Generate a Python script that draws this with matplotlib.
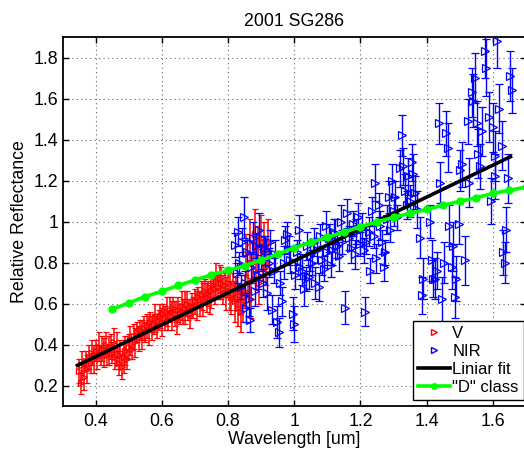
import numpy as np
import matplotlib.pyplot as plt
from matplotlib.lines import Line2D

plt.rcParams['font.family'] = ['Liberation Sans', 'DejaVu Sans']
plt.rcParams['font.size'] = 12.8

# V band spectrum (red)
v_wl = [0.350, 0.355, 0.360, 0.365, 0.370, 0.375, 0.380, 0.385, 0.390, 0.395,
        0.400, 0.405, 0.410, 0.415, 0.420, 0.425, 0.430, 0.435, 0.440, 0.445,
        0.450, 0.455, 0.460, 0.465, 0.470, 0.475, 0.480, 0.485, 0.490, 0.495,
        0.500, 0.505, 0.510, 0.515, 0.520, 0.525, 0.530, 0.535, 0.540, 0.545,
        0.550, 0.555, 0.560, 0.565, 0.570, 0.575, 0.580, 0.585, 0.590, 0.595,
        0.600, 0.605, 0.610, 0.615, 0.620, 0.625, 0.630, 0.635, 0.640, 0.645,
        0.650, 0.655, 0.660, 0.665, 0.670, 0.675, 0.680, 0.685, 0.690, 0.695,
        0.700, 0.705, 0.710, 0.715, 0.720, 0.725, 0.730, 0.735, 0.740, 0.745,
        0.750, 0.755, 0.760, 0.765, 0.770, 0.775, 0.780, 0.785, 0.790, 0.795,
        0.800, 0.805, 0.810, 0.815, 0.820, 0.825, 0.830, 0.835, 0.840, 0.845,
        0.850, 0.855, 0.860, 0.865, 0.870, 0.875, 0.880, 0.885, 0.890, 0.895,
        0.900, 0.905, 0.910, 0.915, 0.920]
v_ref = [0.27, 0.21, 0.30, 0.24, 0.32, 0.28, 0.34, 0.31, 0.36, 0.33,
         0.37, 0.34, 0.39, 0.35, 0.38, 0.36, 0.40, 0.35, 0.37, 0.39,
         0.36, 0.41, 0.34, 0.38, 0.31, 0.35, 0.29, 0.34, 0.37, 0.33,
         0.39, 0.42, 0.38, 0.44, 0.41, 0.46, 0.43, 0.47, 0.45, 0.48,
         0.46, 0.49, 0.47, 0.51, 0.48, 0.50, 0.53, 0.49, 0.52, 0.54,
         0.51, 0.55, 0.53, 0.56, 0.52, 0.57, 0.54, 0.58, 0.55, 0.53,
         0.57, 0.55, 0.59, 0.56, 0.58, 0.60, 0.57, 0.55, 0.59, 0.58,
         0.61, 0.59, 0.63, 0.60, 0.64, 0.62, 0.66, 0.63, 0.65, 0.62,
         0.66, 0.69, 0.67, 0.71, 0.68, 0.72, 0.70, 0.67, 0.69, 0.65,
         0.70, 0.66, 0.63, 0.68, 0.61, 0.65, 0.58, 0.62, 0.56, 0.60,
         0.66, 0.84, 0.72, 0.90, 0.62, 0.80, 0.94, 0.76, 0.87, 0.70,
         0.92, 0.81, 0.88, 0.78, 0.90]
v_err = [0.06, 0.05, 0.07, 0.06, 0.05, 0.07, 0.06, 0.05, 0.06, 0.07,
         0.05, 0.06, 0.07, 0.05, 0.06, 0.07, 0.06, 0.05, 0.07, 0.06,
         0.05, 0.07, 0.06, 0.08, 0.06, 0.07, 0.06, 0.08, 0.07, 0.05,
         0.06, 0.07, 0.05, 0.06, 0.07, 0.05, 0.06, 0.05, 0.07, 0.06,
         0.05, 0.06, 0.07, 0.05, 0.06, 0.05, 0.07, 0.06, 0.05, 0.06,
         0.07, 0.05, 0.06, 0.07, 0.05, 0.06, 0.07, 0.05, 0.06, 0.08,
         0.06, 0.05, 0.07, 0.06, 0.08, 0.06, 0.05, 0.07, 0.06, 0.05,
         0.06, 0.07, 0.05, 0.06, 0.07, 0.08, 0.06, 0.07, 0.06, 0.07,
         0.08, 0.06, 0.07, 0.09, 0.06, 0.07, 0.08, 0.07, 0.06, 0.08,
         0.07, 0.09, 0.08, 0.07, 0.10, 0.08, 0.09, 0.07, 0.10, 0.09,
         0.08, 0.10, 0.09, 0.11, 0.09, 0.10, 0.12, 0.09, 0.11, 0.10,
         0.11, 0.10, 0.12, 0.09, 0.11]

# NIR spectrum (blue)
n_wl = [0.822, 0.826, 0.830, 0.834, 0.838, 0.842, 0.847, 0.850, 0.855, 0.858,
        0.862, 0.866, 0.870, 0.875, 0.880, 0.885, 0.890, 0.895, 0.900, 0.905,
        0.910, 0.913, 0.918, 0.923, 0.928, 0.933, 0.938, 0.942, 0.948, 0.953,
        0.958, 0.963, 0.968, 0.973, 0.978, 0.983, 0.988, 0.995, 0.998, 1.003,
        1.008, 1.013, 1.018, 1.023, 1.029, 1.034, 1.039, 1.044, 1.049, 1.054,
        1.059, 1.064, 1.069, 1.074, 1.079, 1.084, 1.090, 1.095, 1.100, 1.105,
        1.110, 1.114, 1.120, 1.124, 1.129, 1.134, 1.140, 1.145, 1.152, 1.159,
        1.164, 1.170, 1.176, 1.182, 1.188, 1.194, 1.199, 1.205, 1.210, 1.215,
        1.218, 1.225, 1.228, 1.235, 1.240, 1.245, 1.248, 1.255, 1.260, 1.265,
        1.270, 1.275, 1.280, 1.285, 1.290, 1.295, 1.300, 1.305, 1.310, 1.320,
        1.325, 1.329, 1.335, 1.340, 1.345, 1.350, 1.355, 1.360, 1.365, 1.370,
        1.380, 1.386, 1.390, 1.410, 1.415, 1.420, 1.424, 1.430, 1.436, 1.441,
        1.446, 1.451, 1.459, 1.464, 1.466, 1.476, 1.481, 1.487, 1.490, 1.498,
        1.501, 1.508, 1.516, 1.526, 1.527, 1.536, 1.541, 1.546, 1.551, 1.556,
        1.560, 1.566, 1.576, 1.580, 1.587, 1.595, 1.600, 1.605, 1.607, 1.612,
        1.617, 1.627, 1.632, 1.637, 1.640, 1.647, 1.652, 1.657]
n_ref = [0.885, 0.75, 0.95, 0.80, 0.68, 0.90, 1.02, 0.70, 0.58, 0.85,
         0.62, 0.52, 0.78, 0.92, 0.66, 0.88, 0.74, 0.96, 0.82, 0.70,
         0.87, 0.86, 0.65, 0.80, 0.90, 0.57, 0.76, 0.84, 0.51, 0.46,
         0.70, 0.61, 0.80, 0.91, 0.94, 0.86, 0.81, 0.55, 0.50, 0.74,
         0.85, 0.96, 0.78, 0.76, 0.67, 0.72, 0.88, 0.73, 0.83, 0.80,
         0.90, 0.70, 0.86, 0.68, 0.93, 0.81, 0.77, 0.98, 0.85, 0.92,
         0.79, 0.86, 0.95, 0.94, 0.88, 0.83, 1.00, 0.90, 0.58, 1.04,
         0.92, 0.87, 0.99, 0.84, 0.95, 1.02, 0.89, 0.97, 0.86, 0.56,
         0.90, 0.95, 0.76, 1.05, 0.93, 1.19, 0.82, 1.08, 0.98, 0.90,
         0.78, 0.85, 1.01, 1.12, 0.96, 1.20, 1.05, 1.12, 1.02, 1.26,
         1.42, 1.27, 1.15, 1.08, 1.22, 1.10, 1.29, 1.23, 1.14, 1.06,
         0.92, 0.64, 0.72, 1.00, 0.81, 0.72, 0.72, 0.76, 1.48, 1.19,
         0.62, 0.80, 1.43, 1.36, 0.98, 0.78, 0.88, 0.63, 0.72, 0.99,
         1.25, 1.28, 0.81, 1.49, 1.19, 1.63, 1.59, 1.70, 1.48, 1.33,
         1.27, 1.44, 1.83, 1.75, 1.51, 1.10, 1.46, 1.32, 1.22, 1.88,
         1.55, 1.37, 0.85, 0.80, 0.96, 1.21, 1.71, 1.64]
n_err = [0.06, 0.05, 0.07, 0.05, 0.06, 0.07, 0.10, 0.06, 0.07, 0.06,
         0.08, 0.06, 0.07, 0.08, 0.07, 0.06, 0.07, 0.08, 0.06, 0.07,
         0.06, 0.07, 0.08, 0.07, 0.06, 0.07, 0.06, 0.07, 0.08, 0.07,
         0.06, 0.07, 0.08, 0.07, 0.06, 0.07, 0.06, 0.08, 0.09, 0.07,
         0.06, 0.07, 0.06, 0.07, 0.08, 0.06, 0.07, 0.06, 0.07, 0.06,
         0.07, 0.08, 0.06, 0.07, 0.06, 0.07, 0.06, 0.07, 0.06, 0.07,
         0.06, 0.07, 0.06, 0.07, 0.06, 0.07, 0.08, 0.06, 0.08, 0.07,
         0.06, 0.07, 0.06, 0.07, 0.06, 0.07, 0.06, 0.07, 0.06, 0.07,
         0.06, 0.07, 0.06, 0.07, 0.06, 0.09, 0.07, 0.06, 0.07, 0.06,
         0.07, 0.06, 0.07, 0.08, 0.06, 0.08, 0.07, 0.08, 0.06, 0.09,
         0.10, 0.09, 0.08, 0.07, 0.09, 0.08, 0.09, 0.10, 0.08, 0.09,
         0.10, 0.09, 0.10, 0.08, 0.10, 0.09, 0.10, 0.09, 0.10, 0.10,
         0.11, 0.10, 0.11, 0.12, 0.10, 0.11, 0.12, 0.10, 0.11, 0.10,
         0.10, 0.11, 0.12, 0.11, 0.12, 0.12, 0.13, 0.12, 0.11, 0.12,
         0.11, 0.12, 0.13, 0.14, 0.12, 0.11, 0.12, 0.12, 0.11, 0.13,
         0.12, 0.12, 0.11, 0.10, 0.11, 0.12, 0.12, 0.11]

# linear fit end points
fit_wl = [0.345, 1.653]
fit_ref = [0.298, 1.316]

# "D" class template
d_wl = [0.45, 0.50, 0.55, 0.60, 0.65, 0.70, 0.75, 0.80, 0.85, 0.90, 0.95, 1.00, 1.05,
        1.10, 1.15, 1.20, 1.25, 1.30, 1.35, 1.40, 1.45, 1.50, 1.55, 1.60, 1.65, 1.70]
d_ref = [0.572, 0.603, 0.634, 0.660, 0.688, 0.714, 0.740, 0.761, 0.784, 0.811, 0.841, 0.872, 0.898,
         0.923, 0.949, 0.974, 0.999, 1.020, 1.040, 1.059, 1.080, 1.098, 1.116, 1.137, 1.152, 1.168]

fig = plt.figure(figsize=(5.24, 4.49), dpi=100)
ax = fig.add_axes([62.5/524, 43/449, 463.5/524, 369/449])

ax.errorbar(v_wl, v_ref, yerr=v_err, fmt='>', color='red', mfc='none', ms=4.5,
            mew=0.9, elinewidth=1.1, capsize=2.5, capthick=0.9, zorder=2)
ax.errorbar(n_wl, n_ref, yerr=n_err, fmt='>', color='blue', mfc='none', ms=5.5,
            mew=0.9, elinewidth=1.0, capsize=3, capthick=1.0, zorder=3)
ax.plot(fit_wl, fit_ref, color='k', lw=2.6, zorder=4)
ax.plot(d_wl, d_ref, color=(0, 1, 0), lw=2.6, marker='o', ms=5, zorder=5)

ax.set_xlim(0.3, 1.7)
ax.set_ylim(0.1, 1.9)
ax.set_xticks([0.4, 0.6, 0.8, 1.0, 1.2, 1.4, 1.6])
ax.set_xticklabels(['0.4', '0.6', '0.8', '1', '1.2', '1.4', '1.6'])
ax.set_yticks([0.2, 0.4, 0.6, 0.8, 1.0, 1.2, 1.4, 1.6, 1.8])
ax.set_yticklabels(['0.2', '0.4', '0.6', '0.8', '1', '1.2', '1.4', '1.6', '1.8'])
ax.grid(True, color='0.4', linestyle=(0, (1, 3)), linewidth=0.8)
ax.set_axisbelow(True)
ax.tick_params(direction='in', length=4, width=1, top=True, right=True)
ax.tick_params(axis='x', pad=5)
ax.tick_params(axis='y', pad=3)
for s in ax.spines.values():
    s.set_linewidth(1.3)

ax.set_title('2001 SG286', fontsize=12.8, pad=8)
ax.set_xlabel('Wavelength [um]', labelpad=1)
ax.set_ylabel('Relative Reflectance', labelpad=4)

handles = [Line2D([], [], ls='none', marker='>', mfc='none', mec='red', ms=4),
           Line2D([], [], ls='none', marker='>', mfc='none', mec='blue', ms=4),
           Line2D([], [], color='k', lw=2.6),
           Line2D([], [], color=(0, 1, 0), lw=2.6, marker='o', ms=4)]
leg = ax.legend(handles, ['V', 'NIR', 'Liniar fit', '"D" class'],
                loc='lower left', bbox_to_anchor=(413/524, 49/449),
                bbox_transform=fig.transFigure, fancybox=False, framealpha=1,
                edgecolor='k', borderpad=0.3, labelspacing=0.18, fontsize=12,
                handlelength=1.9, handletextpad=0.15, borderaxespad=0)
leg.get_frame().set_linewidth(1.0)

plt.savefig('out.png', dpi=100)
